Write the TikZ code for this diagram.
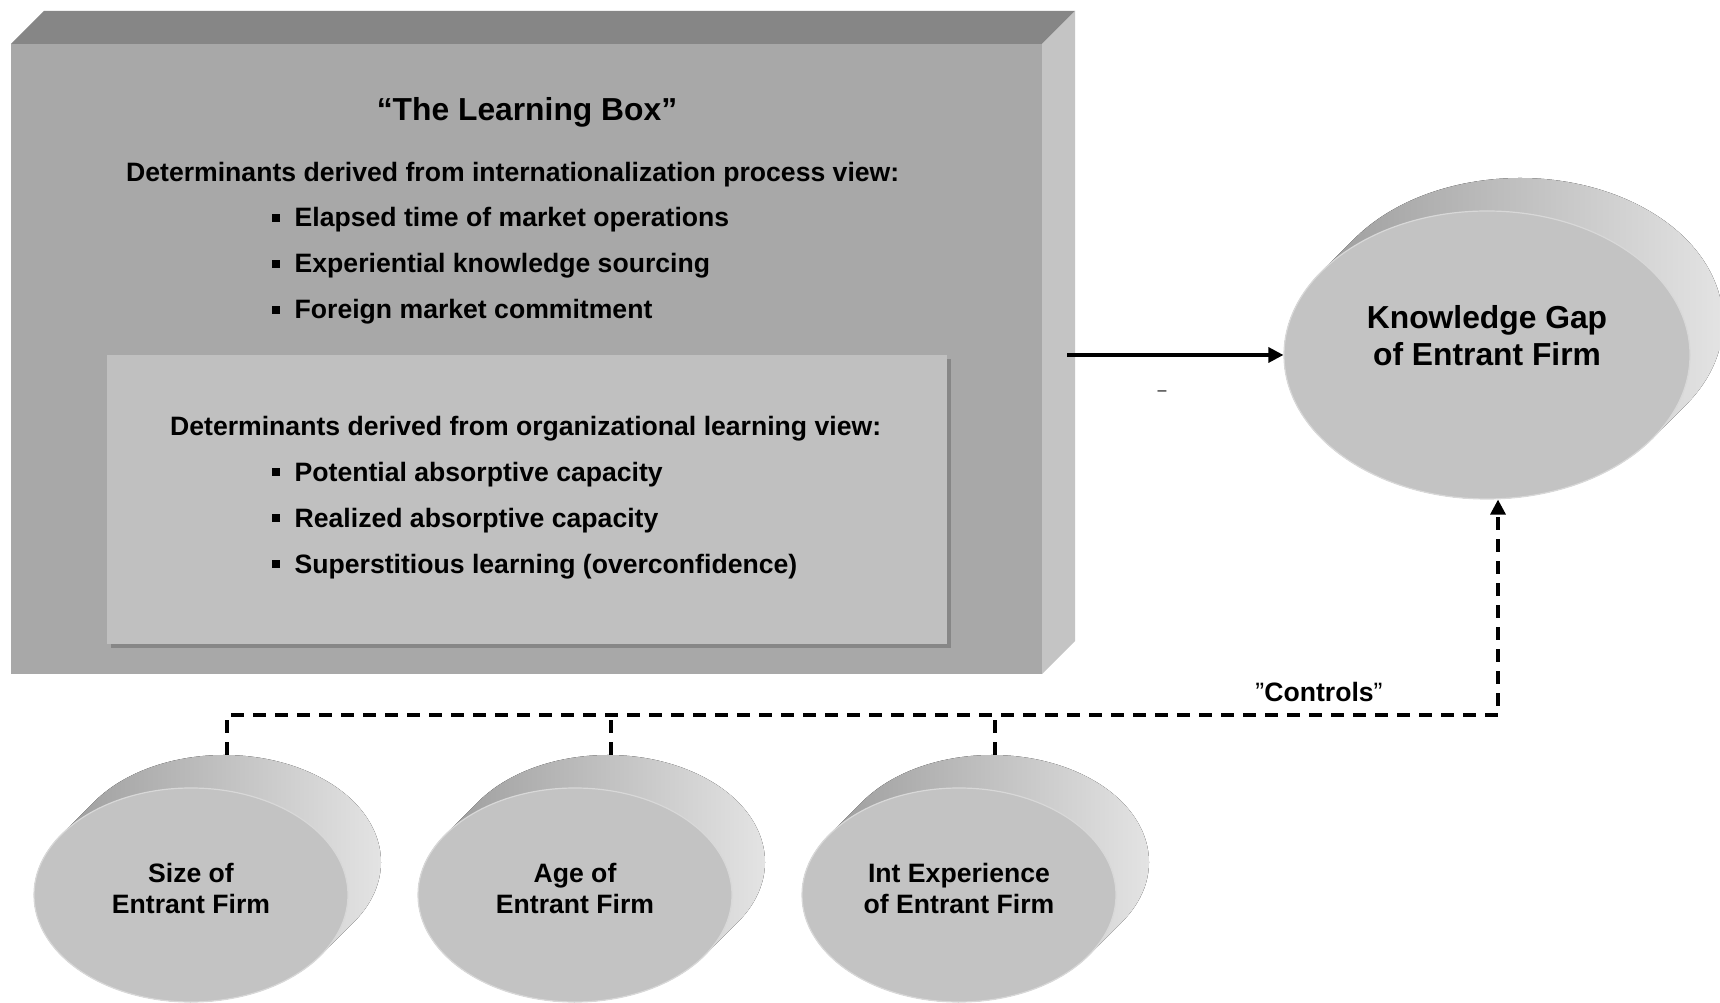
\documentclass[tikz,border=0pt]{standalone}
\usepackage{fontspec}
\setmainfont{Liberation Sans}
\usetikzlibrary{arrows.meta,calc,shapes.geometric}
\definecolor{topface}{HTML}{868686}
\definecolor{frontface}{HTML}{A8A8A8}
\definecolor{rightface}{HTML}{C4C4C4}
\definecolor{innerbox}{HTML}{C0C0C0}
\definecolor{innershadow}{HTML}{878787}
\definecolor{discfrontc}{HTML}{C3C3C3}
\definecolor{discrim}{HTML}{D8D8D8}
\definecolor{sidedark}{HTML}{939393}
\definecolor{sidelight}{HTML}{E8E8E8}
\newcommand\myTitle{\fontsize{31.8}{37}\selectfont\bfseries}
\newcommand\myBody{\fontsize{26.6}{31}\selectfont\bfseries}
\newcommand\myBullet{\rule[5pt]{7.5pt}{8pt}\hspace{15pt}}
\tikzset{
  txt/.style={inner sep=0pt, anchor=base west, font=\myBody},
  discside/.style={left color=sidedark, right color=sidelight},
  discfront/.style={ellipse, fill=discfrontc, draw=discrim, line width=1.2pt, inner sep=0pt},
  disctext/.style={align=center, inner sep=0pt},
  solidarrow/.style={line width=3.3pt, -{Triangle[length=15pt,width=15pt]}},
  ctl/.style={line width=3.3pt, dash pattern=on 13pt off 9pt},
}
% #1 name, #2 cx, #3 cy, #4 rx, #5 ry, #6 depth
\newcommand\drawdisc[6]{%
  \pgfmathsetmacro\tz{-atan(#5/#4)}%
  \fill[discside] ($(#2,#3)+({#4*cos(\tz)},{#5*sin(\tz)})$) -- ++(#6,#6)
    arc[start angle=\tz, end angle=\tz+180, x radius=#4, y radius=#5] -- ++(-#6,-#6)
    arc[start angle=\tz+180, end angle=\tz+360, x radius=#4, y radius=#5] -- cycle;
  \node[discfront, minimum width=#4*2pt, minimum height=#5*2pt] (#1) at (#2,#3) {};
  \coordinate (#1top) at (#2+#6+3,#3+#5+#6);
}
\begin{document}
\begin{tikzpicture}[x=1pt,y=1pt]
\useasboundingbox (0,0) rectangle (1720,1003);
\fill[white] (0,0) rectangle (1720,1003);
% learning box
\fill[topface] (11,959) -- (44,992) -- (1075,992) -- (1042,959) -- cycle;
\fill[frontface] (11,329) rectangle (1042,959);
\fill[rightface] (1042,959) -- (1075,992) -- (1075,362) -- (1042,329) -- cycle;
\fill[innershadow] (111,355) rectangle (951,644);
\fill[innerbox] (107,359) rectangle (947,648);
\node[inner sep=0pt, anchor=base, font=\myTitle] (title) at (527,882) {“The Learning Box”};
\node[txt] (det1) at (126,821.4) {Determinants derived from internationalization process view:};
\node[txt] (b1) at (272,776) {\myBullet Elapsed time of market operations};
\node[txt] (b2) at (272,730) {\myBullet Experiential knowledge sourcing};
\node[txt] (b3) at (272,684) {\myBullet Foreign market commitment};
\node[txt] (det2) at (170,567) {Determinants derived from organizational learning view:};
\node[txt] (b4) at (272,521.5) {\myBullet Potential absorptive capacity};
\node[txt] (b5) at (272,475.5) {\myBullet Realized absorptive capacity};
\node[txt] (b6) at (272,429.5) {\myBullet Superstitious learning (overconfidence)};
% discs
\drawdisc{kg}{1487}{648}{203}{144}{33}
\drawdisc{sz}{191}{108}{157}{107}{33}
\drawdisc{ag}{575}{108}{157}{107}{33}
\drawdisc{ie}{959}{108}{157}{107}{33}
\node[disctext, font=\myTitle] (kglabel) at ($(kg.center)+(0,19)$) {Knowledge Gap\\of Entrant Firm};
\node[disctext, font=\myBody] (szlabel) at ($(sz.center)+(0,7)$) {Size of\\Entrant Firm};
\node[disctext, font=\myBody] (aglabel) at ($(ag.center)+(0,7)$) {Age of\\Entrant Firm};
\node[disctext, font=\myBody] (ielabel) at ($(ie.center)+(0,7)$) {Int Experience\\of Entrant Firm};
% connectors
\coordinate (boxout) at (1067,648);
\draw[solidarrow] (boxout) -- (kg.west);
\node[inner sep=0pt, font=\fontsize{16}{18}\selectfont] (minus) at (1162,610) {–};
\coordinate (busR) at (1498,288);
\draw[ctl, -{Triangle[length=15pt,width=15pt]}] (sztop) |- (busR) -- (busR |- kg.south);
\draw[ctl] (agtop) -- (agtop |- busR);
\draw[ctl] (ietop) -- (ietop |- busR);
\node[inner sep=0pt, font=\myBody] (controls) at (1319,311) {{\mdseries ”}Controls{\mdseries ”}};
\end{tikzpicture}
\end{document}
